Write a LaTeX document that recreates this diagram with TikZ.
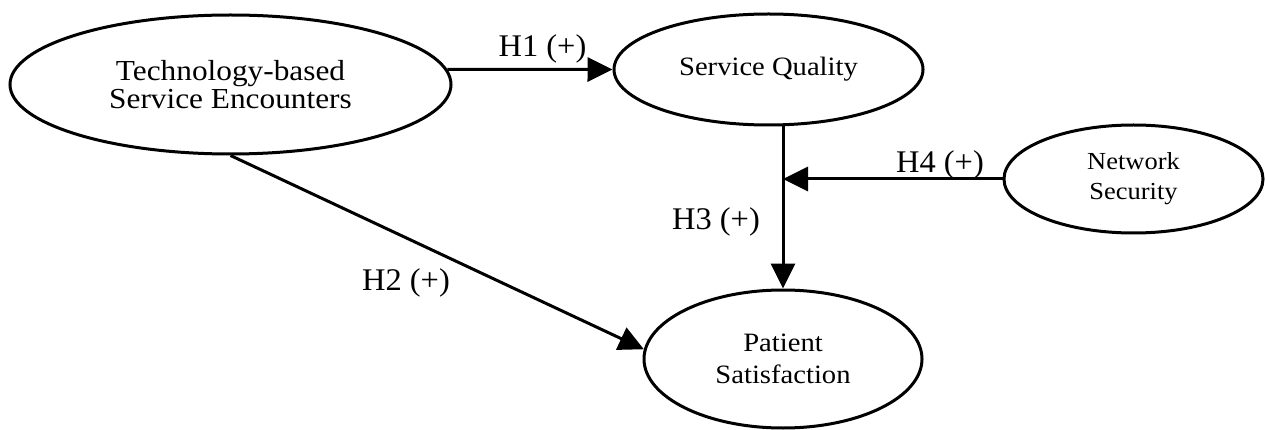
\documentclass[tikz,border=0pt]{standalone}
\usepackage{fontspec}
\setmainfont[FakeStretch=1.08]{Liberation Serif}
\newfontfamily\hyplabelfont[FakeStretch=1.03]{Liberation Serif}
\usetikzlibrary{shapes.geometric,arrows.meta}
\tikzset{
  construct/.style={draw=black, line width=3pt, ellipse, inner sep=0pt, align=center, text=black},
  path arrow/.style={line width=3pt, -{Triangle[length=25pt,width=24pt]}},
  hyp/.style={anchor=base, inner sep=0pt, font=\hyplabelfont\fontsize{31.5}{32}\selectfont}
}
\begin{document}
\begin{tikzpicture}[x=1pt,y=-1pt]
\useasboundingbox (0,0) rectangle (1265,430);
\node[construct, minimum width=441pt, minimum height=139pt, font=\fontsize{29}{28}\selectfont] (tbse) at (230.5,84.5) {Technology-based\\Service Encounters};
\node[construct, minimum width=309pt, minimum height=111pt, font=\fontsize{26.5}{28}\selectfont] (sq) at (768.5,69.5) {Service Quality};
\node[construct, minimum width=259pt, minimum height=108pt, font=\fontsize{24.5}{30}\selectfont] (ns) at (1133.5,179) {Network\\Security};
\node[construct, minimum width=278pt, minimum height=138pt, font=\fontsize{26.5}{32}\selectfont] (ps) at (783,359) {Patient\\Satisfaction};
\coordinate (sqout) at (ps.north |- sq.south);
\coordinate (modpt) at (ps.north |- ns.west);
\draw[path arrow] (tbse.4) -- (sq.west);
\draw[path arrow] (tbse.south) -- (ps.176);
\draw[path arrow] (sqout) -- (ps.north);
\draw[path arrow] (ns.west) -- (modpt);
\node[hyp] (h1) at (542.5,57) {H1 (+)};
\node[hyp] (h2) at (406,290) {H2 (+)};
\node[hyp] (h3) at (716,230) {H3 (+)};
\node[hyp] (h4) at (940,173) {H4 (+)};
\end{tikzpicture}
\end{document}
